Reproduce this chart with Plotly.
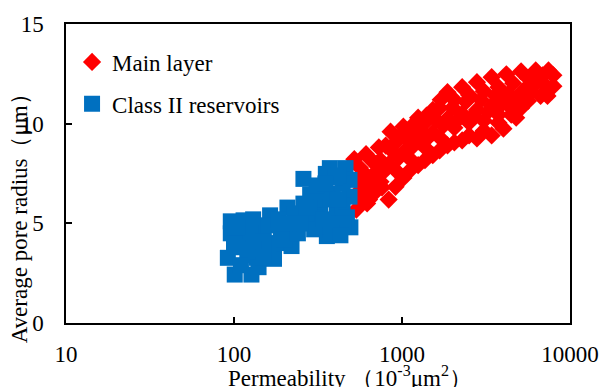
import plotly.graph_objects as go

# Main layer (red diamonds): permeability (10^-3 um^2), average pore radius (um)
main_perm = [520, 611, 728, 855, 1019, 1247, 1525, 1866, 2281, 2793, 3417, 4178, 5115, 6252, 7447, 7962,
             535, 637, 833, 1019, 1247, 1525, 1866, 2281, 2793, 3417, 4016, 4783, 5623, 6683, 7345, 7962,
             556, 681, 833, 1019, 1247, 1525, 1866, 2281, 2793, 3417, 4178, 5115, 6252,
             611, 745, 915, 1120, 1370, 1675, 2050, 2508, 3069, 3750, 4470, 5470,
             745, 915, 1120, 1370, 1675, 2050, 2508, 3069, 3750, 4590, 5623, 6870,
             571, 681, 915, 1120, 1370, 1675, 2050, 2508, 3069, 3750, 4470, 5115,
             650, 780, 960, 1170, 1430, 1760, 2150, 2650, 3250, 3950, 4800, 5900, 7000,
             600, 700, 880, 1080, 1320, 1600, 2000, 2400, 2950, 3600, 4300, 6500,
             580, 620, 700, 760, 540, 560, 650, 800, 950, 1150, 1400, 1700]
main_radius = [8.22, 8.47, 8.81, 9.60, 9.85, 10.30, 10.69, 11.58, 11.83, 12.08, 12.33, 12.48, 12.62, 12.67, 12.67, 12.43,
               5.69, 6.19, 6.19, 7.28, 7.92, 8.42, 8.91, 9.16, 9.26, 9.41, 9.75, 10.30, 11.14, 11.39, 11.39, 11.88,
               6.98, 7.48, 7.97, 8.56, 9.11, 9.55, 10.25, 10.50, 10.69, 10.89, 11.14, 11.53, 12.03,
               6.58, 7.08, 7.67, 8.22, 8.81, 9.31, 9.80, 10.05, 10.15, 10.45, 10.79, 11.78,
               8.17, 9.06, 9.55, 10.05, 10.79, 11.19, 11.44, 11.63, 11.83, 12.03, 12.28, 12.43,
               6.09, 6.58, 6.83, 7.67, 8.17, 8.66, 9.06, 9.41, 9.65, 10.05, 10.45, 10.79,
               7.0, 7.6, 8.3, 8.9, 9.3, 9.9, 10.2, 10.4, 10.6, 11.0, 11.3, 11.6, 12.0,
               7.5, 8.0, 8.6, 9.2, 9.6, 10.2, 10.8, 11.1, 11.2, 11.4, 11.5, 12.2,
               7.3, 6.0, 6.6, 6.8, 6.5, 7.8, 8.2, 8.9, 9.3, 9.9, 10.4, 11.2]

# Class II reservoirs (blue squares)
class2_perm = [91.9, 101, 127, 95.7, 95.7, 114, 130, 164, 117, 137, 173, 180, 139, 220, 208, 259, 273,
               217, 284, 259, 352, 372, 461, 487, 387, 487, 408, 493, 357, 414, 334, 325, 443, 443,
               190, 150, 240, 110, 160, 300, 360, 420,
               125, 150, 105, 200, 240, 230, 300, 330, 400, 420, 470, 380, 160, 120, 140, 110, 300, 270,
               100, 105, 130, 150, 185, 210, 250, 280, 310, 350, 340, 450, 380, 430]
class2_radius = [3.27, 2.43, 2.43, 5.10, 4.50, 5.15, 5.20, 5.40, 3.91, 3.27, 3.22, 4.01, 4.36, 3.86, 5.79, 5.99, 5.0,
                 4.85, 6.44, 7.23, 7.48, 7.77, 7.77, 7.18, 6.49, 6.34, 5.50, 4.80, 4.36, 4.60, 4.85, 5.69, 5.89, 6.98,
                 4.6, 4.8, 5.3, 4.2, 3.8, 5.3, 6.2, 7.4,
                 4.5, 4.1, 3.8, 4.2, 4.5, 5.5, 6.2, 6.6, 7.3, 6.2, 5.3, 5.0, 4.9, 3.4, 2.8, 2.9, 4.7, 5.5,
                 4.0, 4.8, 3.7, 3.3, 5.2, 5.0, 5.0, 5.8, 6.9, 7.0, 5.2, 5.0, 4.5, 4.4]

x_tickvals = [10, 100, 1000, 10000]
x_ticktext = ["10", "100", "1000", "10000"]
y_tickvals = [0, 5, 10, 15]

FONT = "Liberation Serif"
FS = 23

fig = go.Figure()
fig.add_trace(go.Scatter(
    x=main_perm, y=main_radius, mode="markers", name="Main layer", legendgroup="a",
    marker=dict(symbol="diamond", size=14, color="#FF0000", line=dict(width=0)),
))
fig.add_trace(go.Scatter(
    x=class2_perm, y=class2_radius, mode="markers", name="Class II reservoirs", legendgroup="b",
    marker=dict(symbol="square", size=16, color="#0070C0", line=dict(width=0)),
))

axis_common = dict(
    showgrid=False, zeroline=False, showline=True, linecolor="black", linewidth=1.5,
    mirror=True, ticks="inside", ticklen=6, tickcolor="black", tickwidth=1.5,
    tickfont=dict(family=FONT, size=FS, color="black"),
)
fig.update_xaxes(type="log", range=[1, 4], tickvals=x_tickvals, ticktext=x_ticktext,
                 ticklabelstandoff=10, **axis_common)
fig.update_yaxes(range=[0, 15], tickvals=y_tickvals, ticklabelstandoff=16, **axis_common)

fig.update_layout(
    width=611, height=387,
    margin=dict(l=66, r=31, t=20, b=64),
    paper_bgcolor="white", plot_bgcolor="white",
    font=dict(family=FONT, size=FS, color="black"),
    showlegend=True,
    legend=dict(x=0.012, y=0.945, xanchor="left", yanchor="top", bgcolor="rgba(0,0,0,0)",
                tracegroupgap=9, font=dict(family=FONT, size=FS, color="black")),
    annotations=[
        dict(text="Average pore radius（μm）", xref="paper", yref="paper", x=-0.0934, y=0.37,
             xanchor="center", yanchor="middle", textangle=-90, showarrow=False,
             font=dict(family=FONT, size=FS, color="black")),
        dict(text="Permeability （10<sup>-3</sup>μm<sup>2</sup>）", xref="paper", yref="paper",
             x=0.564, y=-0.178, xanchor="center", yanchor="middle", showarrow=False,
             font=dict(family=FONT, size=FS, color="black")),
    ],
)

fig.write_html("out.html")
